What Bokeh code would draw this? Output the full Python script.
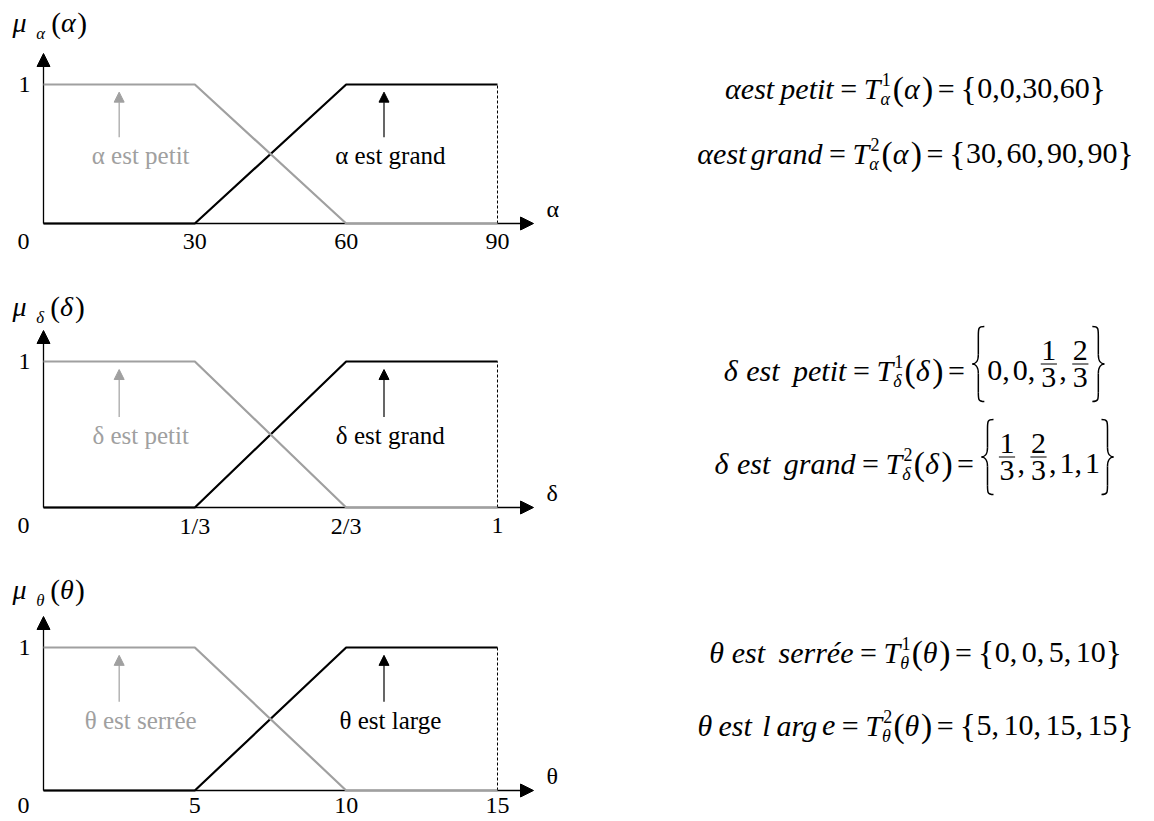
from fractions import Fraction
from bokeh.plotting import figure
from bokeh.layouts import column
from bokeh.models import Range1d, Arrow, NormalHead
from bokeh.core.properties import value
from bokeh.embed import file_html
from bokeh.resources import INLINE

# ---------------- data ----------------
alpha_ticks = [0, 30, 60, 90]
alpha_tick_labels = ["0", "30", "60", "90"]
alpha_petit = [0, 0, 30, 60]
alpha_grand = [30, 60, 90, 90]
alpha_names = ["α est petit", "α est grand"]

delta_ticks = [0, 1 / 3, 2 / 3, 1]
delta_tick_labels = ["0", "1/3", "2/3", "1"]
delta_petit = [0, 0, 1 / 3, 2 / 3]
delta_grand = [1 / 3, 2 / 3, 1, 1]
delta_names = ["δ est petit", "δ est grand"]

theta_ticks = [0, 5, 10, 15]
theta_tick_labels = ["0", "5", "10", "15"]
theta_serree = [0, 0, 5, 10]
theta_large = [5, 10, 15, 15]
theta_names = ["θ est serrée", "θ est large"]

# ---------------- layout / style ----------------
FONT = "Liberation Serif"
W = 1154
PANEL_TOP = [0, 280, 560]
PANEL_H = [280, 280, 261]
BASE = [223, 507, 790]
ONE = [84, 361, 647]
TICK_OFF = [18, 18, 15]
X0_PAGE, XMAX_PAGE = 43, 497
GRAY = "#a0a0a0"
EQ_FS = 30
EQ_CX = 915
FRAC_AXIS = 0.55
MID = 0.34  # em distance from baseline to middle of the em box

W_REG = {' ': .25, ',': .25, '/': .278, '{': .48, '}': .48, '(': .333, ')': .333,
         '=': .564, 'α': .55, 'δ': .5, 'θ': .5, 'μ': .5}
W_IT = {'a': .5, 'd': .5, 'e': .444, 'g': .5, 'i': .278, 'l': .278, 'n': .5, 'p': .5,
        'r': .389, 's': .389, 't': .278, 'T': .556, 'é': .444, ' ': .25,
        'α': .55, 'δ': .5, 'θ': .5, 'μ': .5}


def tw(s, ital=False):
    tab = W_IT if ital else W_REG
    return sum(tab.get(c, .5) for c in s)


class Panel:
    def __init__(self, i, xmax):
        self.top = PANEL_TOP[i]
        self.h = PANEL_H[i]
        self.kx = (XMAX_PAGE - X0_PAGE) / xmax
        self.ky = BASE[i] - ONE[i]
        self.xs = -X0_PAGE / self.kx
        self.xe = self.xs + W / self.kx
        self.ye = (BASE[i] - self.top) / self.ky
        self.ys = self.ye - self.h / self.ky

    def X(self, px):
        return self.xs + px / self.kx

    def Y(self, py):
        return self.ye - (py - self.top) / self.ky


def txt(p, P, X, Ybase, s, size, ital=False, color="black", align="left"):
    """Draw text whose alphabetic baseline is at page y Ybase."""
    if p is None:
        return
    p.text(x=[P.X(X)], y=[P.Y(Ybase - MID * size)], text=[s], text_font=value(FONT),
           text_font_size=f"{size:.1f}px", text_font_style="italic" if ital else "normal",
           text_color=color, text_align=align, text_baseline="middle")


def brace(p, P, xl, ym, hh, bw, side):
    if p is None:
        return
    def fx(x):
        return x if side == "l" else xl + bw - (x - xl)
    xm = xl + bw * 0.5
    yt, yb = ym - hh, ym + hh
    curves = [
        ((xl + bw, yt), (xm, yt), (xm, yt + 0.05 * hh), (xm, yt + 0.25 * hh)),
        ((xm, ym - 0.25 * hh), (xm, ym - 0.05 * hh), (xl + 0.2 * bw, ym), (xl, ym)),
        ((xl, ym), (xl + 0.2 * bw, ym), (xm, ym + 0.05 * hh), (xm, ym + 0.25 * hh)),
        ((xm, yb - 0.25 * hh), (xm, yb - 0.05 * hh), (xm, yb), (xl + bw, yb)),
    ]
    for a, c0, c1, b in curves:
        p.bezier(x0=[P.X(fx(a[0]))], y0=[P.Y(a[1])], x1=[P.X(fx(b[0]))], y1=[P.Y(b[1])],
                 cx0=[P.X(fx(c0[0]))], cy0=[P.Y(c0[1])], cx1=[P.X(fx(c1[0]))], cy1=[P.Y(c1[1])],
                 line_color="black", line_width=1.5)
    for y0, y1 in [(yt + 0.25 * hh, ym - 0.25 * hh), (ym + 0.25 * hh, yb - 0.25 * hh)]:
        p.segment(x0=[P.X(fx(xm))], y0=[P.Y(y0)], x1=[P.X(fx(xm))], y1=[P.Y(y1)],
                  line_color="black", line_width=1.5)


def draw_items(p, P, items, x_left, base, fs):
    x = x_left
    for it in items:
        k = it[0]
        if k == "t":
            _, s, ital, sc, dy, pad = it
            txt(p, P, x, base + dy * fs, s, fs * sc, ital)
            x += tw(s, ital) * fs * sc + pad * fs
        elif k == "gap":
            x += it[1] * fs
        elif k == "ss":
            _, sup, sub = it
            txt(p, P, x + 0.04 * fs, base - 0.42 * fs, sup, 0.6 * fs, False)
            txt(p, P, x, base + 0.22 * fs, sub, 0.6 * fs, True)
            x += max(tw(sup), tw(sub, True)) * 0.6 * fs + 0.08 * fs
        elif k == "frac":
            _, n, d = it
            wf = max(tw(n), tw(d)) * fs + 0.2 * fs
            cxf = x + wf / 2
            bar = base - FRAC_AXIS * fs
            txt(p, P, cxf, bar - 0.1 * fs, n, fs, False, align="center")
            txt(p, P, cxf, bar + 0.1 * fs + 0.68 * fs, d, fs, False, align="center")
            if p is not None:
                p.segment(x0=[P.X(x + 0.08 * fs)], y0=[P.Y(bar)], x1=[P.X(x + wf - 0.08 * fs)],
                          y1=[P.Y(bar)], line_color="black", line_width=1.2)
            x += wf
        elif k == "bb":
            _, side = it
            brace(p, P, x + 0.05 * fs, base - FRAC_AXIS * fs, 1.25 * fs, 0.4 * fs, side)
            x += 0.55 * fs
    return x


def fmt_val(v):
    f = Fraction(v).limit_denominator(12)
    if f.denominator == 1:
        return str(f.numerator)
    return (str(f.numerator), str(f.denominator))


def eq_items(lhs, sup, sym, values, comma_pad):
    items = list(lhs)
    items += [("gap", .22), ("t", "=", False, 1, 0, 0), ("gap", .22),
              ("t", "T", True, 1, 0, 0), ("ss", sup, sym),
              ("t", "(", False, 1.12, 0.04, 0), ("t", sym, True, 1, 0, 0.05),
              ("t", ")", False, 1.12, 0.04, 0), ("gap", .15),
              ("t", "=", False, 1, 0, 0), ("gap", .2)]
    vals = [fmt_val(v) for v in values]
    big = any(isinstance(v, tuple) for v in vals)
    items.append(("bb", "l") if big else ("t", "{", False, 1.12, 0.04, 0.02))
    for j, v in enumerate(vals):
        if isinstance(v, tuple):
            items.append(("frac", v[0], v[1]))
        else:
            items.append(("t", v, False, 1, 0, 0))
        if j < len(vals) - 1:
            items.append(("t", ",", False, 1, 0, comma_pad))
    items.append(("bb", "r") if big else ("t", "}", False, 1.12, 0.04, 0))
    return items


def trapezoid_points(params, xmax):
    a, b, c, d = params
    xs, ys = [], []
    if a > 0:
        xs.append(0); ys.append(0)
    if a == b:
        xs.append(a); ys.append(1)
    else:
        xs += [a, b]; ys += [0, 1]
    if c == d:
        xs.append(d); ys.append(1)
    else:
        xs += [c, d]; ys += [1, 0]
    if d < xmax:
        xs.append(xmax); ys.append(0)
    return xs, ys


def make_panel(i, ticks, tick_labels, set1, set2, names, sym, eqs):
    xmax = ticks[-1]
    P = Panel(i, xmax)
    p = figure(width=W, height=P.h, x_range=Range1d(P.xs, P.xe), y_range=Range1d(P.ys, P.ye),
               output_backend="svg", toolbar_location=None, min_border=0,
               x_axis_type=None, y_axis_type=None, outline_line_color=None)
    p.grid.visible = False

    # axes as arrows (drawn beneath the curves)
    x_tip = P.X(533)
    y_tip = 1 + 31 / P.ky
    for (xe, ye) in [(x_tip, 0), (0, y_tip)]:
        p.add_layout(Arrow(end=NormalHead(size=13, fill_color="black", line_color="black"),
                           x_start=0, y_start=0, x_end=xe, y_end=ye,
                           line_color="black", line_width=1.3, level="underlay"))

    # dashed limit at xmax
    p.line([xmax, xmax], [0, 1], line_color="black", line_width=1, line_dash="3 2")

    # membership functions
    gx, gy = trapezoid_points(set2, xmax)
    p.line(gx, gy, line_color="black", line_width=2.2)
    sx, sy = trapezoid_points(set1, xmax)
    p.line(sx, sy, line_color=GRAY, line_width=2.2)

    # annotation arrows
    for xa, col in [(xmax / 6, GRAY), (0.75 * xmax, "black")]:
        p.add_layout(Arrow(end=NormalHead(size=10, fill_color=col, line_color=col),
                           x_start=xa, y_start=0.62, x_end=xa, y_end=0.945,
                           line_color=col, line_width=1.2))
    p.text(x=[0.214 * xmax, 0.764 * xmax], y=[0.49, 0.49], text=names,
           text_color=[GRAY, "black"], text_font=value(FONT), text_font_size="25px",
           text_align="center", text_baseline="middle")

    # tick labels
    off = TICK_OFF[i]
    p.text(x=ticks[1:], y=[0] * (len(ticks) - 1), text=tick_labels[1:], y_offset=off,
           text_font=value(FONT), text_font_size="24px", text_align="center",
           text_baseline="middle")
    p.text(x=[0], y=[0], text=[tick_labels[0]], x_offset=-20, y_offset=off,
           text_font=value(FONT), text_font_size="24px", text_align="center",
           text_baseline="middle")
    p.text(x=[0], y=[1], text=["1"], x_offset=-19,
           text_font=value(FONT), text_font_size="24px", text_align="center",
           text_baseline="middle")
    p.text(x=[xmax], y=[0], text=[sym], x_offset=49, y_offset=-15,
           text_font=value(FONT), text_font_size="24px", text_align="left",
           text_baseline="middle")

    # y label  mu_sym(sym)
    mu_items = [("t", "μ", True, 1, 0, 0.35), ("t", sym, True, 0.6, 0.25, 0.2),
                ("t", "(", False, 1.05, 0, 0), ("t", sym, True, 1, 0, 0.03),
                ("t", ")", False, 1.05, 0, 0)]
    draw_items(p, P, mu_items, 12, BASE[i] - 191, 28)

    # equations
    for items, base in eqs:
        wtot = draw_items(None, P, items, 0, base, EQ_FS)
        draw_items(p, P, items, EQ_CX - wtot / 2, base, EQ_FS)
    return p


def lhs(words, pads):
    return [("t", w, True, 1, 0, pd) for w, pd in zip(words, pads)]


eqs_a = [
    (eq_items(lhs(["αest", "petit"], [.18, 0]), "1", "α", alpha_petit, 0), 98),
    (eq_items(lhs(["αest", "grand"], [.12, 0]), "2", "α", alpha_grand, .1), 163),
]
eqs_d = [
    (eq_items(lhs(["δ", "est", "petit"], [.25, .45, 0]), "1", "δ", delta_petit, .1), 380),
    (eq_items(lhs(["δ", "est", "grand"], [.25, .45, 0]), "2", "δ", delta_grand, .1), 473),
]
eqs_t = [
    (eq_items(lhs(["θ", "est", "serrée"], [.25, .45, 0]), "1", "θ", theta_serree, .15), 662),
    (eq_items(lhs(["θ", "est", "l", "arg", "e"], [.2, .35, .2, .12, 0]), "2", "θ", theta_large, .15), 735),
]

p1 = make_panel(0, alpha_ticks, alpha_tick_labels, alpha_petit, alpha_grand, alpha_names, "α", eqs_a)
p2 = make_panel(1, delta_ticks, delta_tick_labels, delta_petit, delta_grand, delta_names, "δ", eqs_d)
p3 = make_panel(2, theta_ticks, theta_tick_labels, theta_serree, theta_large, theta_names, "θ", eqs_t)

layout = column(p1, p2, p3, spacing=0)
open("out.html", "w").write(file_html(layout, INLINE))
